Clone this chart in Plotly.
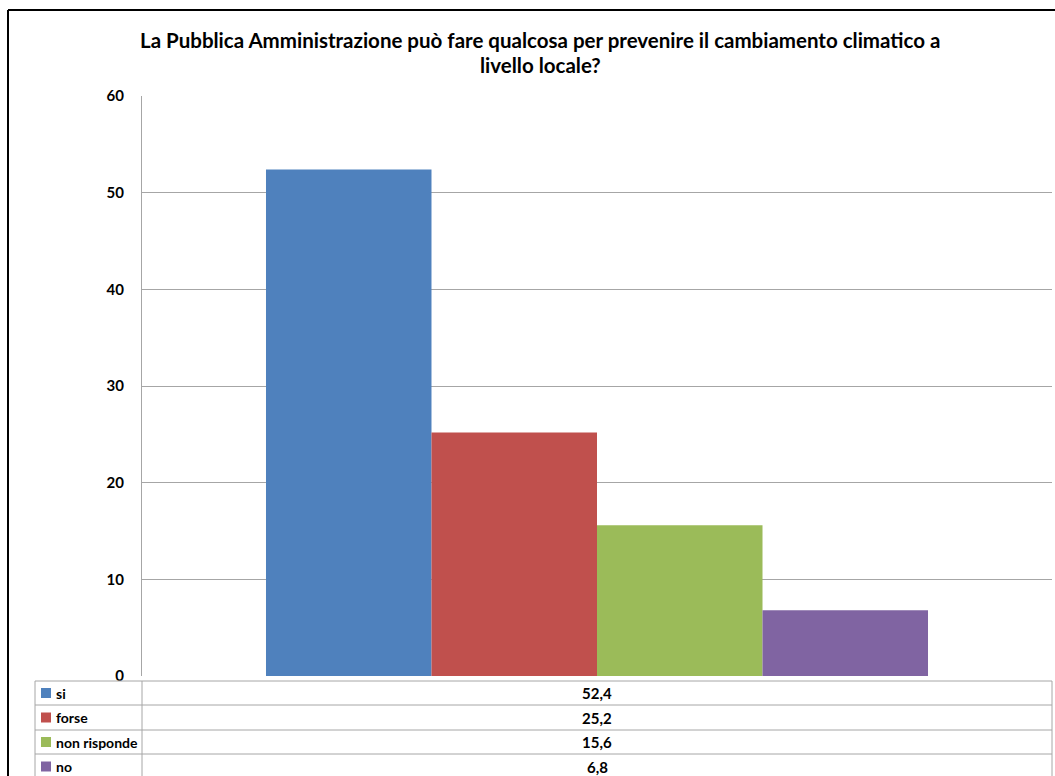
import plotly.graph_objects as go

# Survey answers and percentages
categories = ["si", "forse", "non risponde", "no"]
values = [52.4, 25.2, 15.6, 6.8]
value_labels = ["52,4", "25,2", "15,6", "6,8"]
colors = ["#4F81BD", "#C0504D", "#9BBB59", "#8064A2"]
y_ticks = [0, 10, 20, 30, 40, 50, 60]

title_lines = ["La Pubblica Amministrazione può fare qualcosa per prevenire il cambiamento climatico a",
               "livello locale?"]

W, H = 1055, 776
L, R, T, B = 142, 3, 96, 100
PW, PH = W - L - R, H - T - B

FONT = "Lato, Liberation Sans, Arial"
GRID = "#A6A6A6"


def px(x):
    return (x - L) / PW


def py(y):
    return (H - B - y) / PH


fig = go.Figure()
for name, v, c in zip(categories, values, colors):
    fig.add_trace(go.Bar(x=[""], y=[v], name=name, marker=dict(color=c, line=dict(width=0)),
                         showlegend=False))

shapes = []
annotations = []

# Outer chart frame (left and top edges)
shapes.append(dict(type="line", xref="paper", yref="paper", x0=px(8), x1=px(1060), y0=py(10), y1=py(10),
                   line=dict(color="black", width=2)))
shapes.append(dict(type="line", xref="paper", yref="paper", x0=px(8), x1=px(8), y0=py(10), y1=py(790),
                   line=dict(color="black", width=2)))

# Data table below the plot
row_edges = [681, 705, 730, 754, 779]
for ye in row_edges:
    shapes.append(dict(type="line", xref="paper", yref="paper", x0=px(35), x1=px(1052), y0=py(ye), y1=py(ye),
                       line=dict(color=GRID, width=1)))
for xe in [35, 142, 1052]:
    shapes.append(dict(type="line", xref="paper", yref="paper", x0=px(xe), x1=px(xe), y0=py(681), y1=py(779),
                       line=dict(color=GRID, width=1)))

for i, (name, lab, c) in enumerate(zip(categories, value_labels, colors)):
    yc = (row_edges[i] + row_edges[i + 1]) / 2
    shapes.append(dict(type="rect", xref="paper", yref="paper", x0=px(41), x1=px(51), y0=py(yc - 5), y1=py(yc + 5),
                       fillcolor=c, line=dict(width=0)))
    annotations.append(dict(text=name, xref="paper", yref="paper", x=px(54), y=py(yc), xanchor="left",
                            yanchor="middle", showarrow=False,
                            font=dict(family=FONT, size=14, color="black", weight="bold")))
    annotations.append(dict(text=lab, xref="paper", yref="paper", x=px(597), y=py(yc), xanchor="center",
                            yanchor="middle", showarrow=False,
                            font=dict(family=FONT, size=15, color="black", weight="bold")))

# Title
for i, t in enumerate(title_lines):
    annotations.append(dict(text=t, xref="paper", yref="paper", x=px(540), y=py(40 + 25 * i), xanchor="center",
                            yanchor="middle", showarrow=False,
                            font=dict(family=FONT, size=20.5, color="black", weight="bold")))

fig.update_layout(
    width=W, height=H,
    margin=dict(l=L, r=R, t=T, b=B, pad=0),
    paper_bgcolor="white", plot_bgcolor="white",
    barmode="group", bargap=0.2725, bargroupgap=0,
    shapes=shapes, annotations=annotations,
    xaxis=dict(showticklabels=False, showgrid=False, zeroline=False, showline=False, fixedrange=True),
    yaxis=dict(range=[0, 60], tickvals=y_ticks, showgrid=True, gridcolor=GRID, gridwidth=1,
               showline=True, linecolor=GRID, linewidth=1, zeroline=False, ticks="",
               ticklabelstandoff=14,
               tickfont=dict(family=FONT, size=15, color="black", weight="bold")),
)

fig.write_html("out.html")
